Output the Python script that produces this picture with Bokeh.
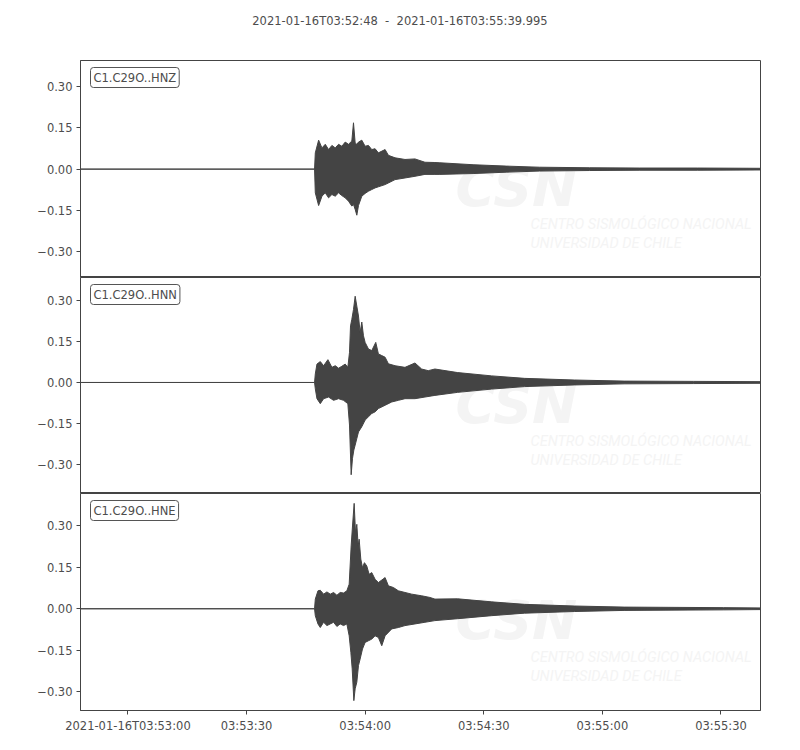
from bokeh.plotting import figure
from bokeh.models import Range1d, FixedTicker, CustomJSTickFormatter, Label, Div
from bokeh.layouts import column
from bokeh.embed import file_html
from bokeh.resources import INLINE

title_text = "2021-01-16T03:52:48  -  2021-01-16T03:55:39.995"
duration = 171.995  # seconds after 03:52:48

x_ticks = [12, 42, 72, 102, 132, 162]
x_tick_labels = ["2021-01-16T03:53:00", "03:53:30", "03:54:00",
                 "03:54:30", "03:55:00", "03:55:30"]
y_ticks = [-0.30, -0.15, 0.0, 0.15, 0.30]

channels = ["C1.C29O..HNZ", "C1.C29O..HNN", "C1.C29O..HNE"]

# trace envelopes (time in s after start, amplitude)
hnz_t = [0, 59.2, 59.39, 60.23, 61.07, 61.91, 62.75, 63.59, 64.43, 65.27, 66.11,
         66.95, 67.79, 68.63, 69.05, 69.47, 69.89, 70.31, 71.15, 71.99, 72.83,
         73.67, 74.51, 75.35, 77.04, 77.88, 79.56, 82.08, 84.60, 87.12, 89.64,
         90.9, 99.3, 107.7, 116.1, 128.7, 141.3, 156.0, 171.995]
hnz_top = [0, 0, 0.059, 0.105, 0.077, 0.09, 0.071, 0.086, 0.077, 0.09, 0.083,
           0.098, 0.09, 0.102, 0.168, 0.095, 0.09, 0.098, 0.105, 0.083, 0.086,
           0.071, 0.074, 0.059, 0.071, 0.05, 0.041, 0.035, 0.037, 0.025, 0.024,
           0.023, 0.016, 0.011, 0.007, 0.005, 0.004, 0.004, 0.003]
hnz_bot = [0, 0, -0.086, -0.132, -0.098, -0.086, -0.104, -0.092, -0.098, -0.086, -0.096,
           -0.104, -0.116, -0.134, -0.128, -0.146, -0.167, -0.132, -0.098, -0.088, -0.08,
           -0.074, -0.068, -0.064, -0.056, -0.05, -0.038, -0.032, -0.026, -0.019, -0.019,
           -0.019, -0.016, -0.011, -0.007, -0.005, -0.004, -0.004, -0.003]

hnn_top_t = [0, 59.2, 59.39, 59.81, 60.65, 61.49, 62.58, 63.59, 64.43, 65.27, 66.11,
             66.95, 67.62, 68.04, 68.30, 68.63, 69.05, 69.47, 69.89, 70.31, 70.73,
             71.15, 71.57, 71.99, 72.83, 73.67, 74.68, 75.35, 76.20, 77.04, 77.88,
             79.56, 82.08, 84.60, 86.28, 87.96, 89.64,
             95.4, 104.0, 112.3, 124.9, 137.5, 155.0, 171.995]
hnn_top = [0, 0, 0.031, 0.067, 0.076, 0.061, 0.083, 0.055, 0.061, 0.052, 0.059,
           0.067, 0.055, 0.11, 0.206, 0.23, 0.266, 0.314, 0.278, 0.242, 0.182,
           0.22, 0.17, 0.146, 0.122, 0.116, 0.146, 0.104, 0.098, 0.092, 0.068,
           0.061, 0.055, 0.071, 0.049, 0.043, 0.049,
           0.036, 0.024, 0.015, 0.009, 0.005, 0.004, 0.003]
hnn_bot_t = [0, 59.2, 59.39, 59.81, 60.65, 61.49, 62.75, 64.01, 65.27, 66.53, 67.62,
             68.04, 68.46, 68.80, 69.14, 69.47, 69.89, 70.31, 71.15, 71.99, 72.83,
             73.67, 74.51, 75.35, 77.04, 78.72, 80.40, 82.08, 84.60, 87.12, 89.64,
             95.4, 104.0, 112.3, 124.9, 137.5, 155.0, 171.995]
hnn_bot = [0, 0, -0.023, -0.059, -0.077, -0.059, -0.053, -0.065, -0.059, -0.065, -0.077,
           -0.155, -0.336, -0.276, -0.246, -0.228, -0.204, -0.18, -0.161, -0.137, -0.125,
           -0.113, -0.107, -0.095, -0.083, -0.071, -0.065, -0.059, -0.059, -0.053, -0.047,
           -0.036, -0.024, -0.015, -0.009, -0.005, -0.004, -0.003]

hne_top_t = [0, 59.2, 59.39, 60.06, 60.65, 61.49, 62.33, 63.17, 64.01, 64.85, 65.69,
             66.53, 67.37, 67.96, 68.46, 68.80, 69.22, 69.56, 69.89, 70.23, 70.48,
             70.90, 71.32, 71.82, 72.41, 73.00, 73.67, 74.51, 75.35, 77.04, 77.88,
             79.14, 80.40, 82.08, 83.76, 86.28, 88.38, 89.64,
             95.4, 104.0, 112.3, 124.9, 137.5, 162.7, 171.995]
hne_top = [0, 0, 0.035, 0.065, 0.067, 0.053, 0.061, 0.053, 0.059, 0.049, 0.059,
           0.057, 0.065, 0.089, 0.228, 0.30, 0.382, 0.276, 0.306, 0.228, 0.252,
           0.18, 0.149, 0.167, 0.155, 0.125, 0.131, 0.107, 0.095, 0.113, 0.083,
           0.077, 0.065, 0.059, 0.053, 0.047, 0.041, 0.035,
           0.036, 0.025, 0.016, 0.01, 0.006, 0.004, 0.003]
hne_bot_t = [0, 59.2, 59.39, 60.06, 60.65, 61.49, 62.33, 63.17, 64.01, 64.85, 65.69,
             66.53, 67.37, 67.96, 68.38, 68.72, 69.14, 69.47, 69.89, 70.31, 70.73,
             71.32, 71.99, 72.83, 73.67, 74.51, 75.35, 76.20, 77.04, 78.72, 80.40,
             82.08, 84.60, 87.12, 89.64,
             95.4, 104.0, 112.3, 124.9, 137.5, 162.7, 171.995]
hne_bot = [0, 0, -0.025, -0.055, -0.068, -0.049, -0.061, -0.055, -0.049, -0.064, -0.055,
           -0.061, -0.055, -0.098, -0.158, -0.218, -0.333, -0.29, -0.266, -0.206, -0.182,
           -0.146, -0.122, -0.116, -0.11, -0.098, -0.104, -0.134, -0.098, -0.073, -0.068,
           -0.061, -0.055, -0.049, -0.043,
           -0.036, -0.025, -0.016, -0.01, -0.006, -0.004, -0.003]

traces = [
    (hnz_t, hnz_top, hnz_t, hnz_bot),
    (hnn_top_t, hnn_top, hnn_bot_t, hnn_bot),
    (hne_top_t, hne_top, hne_bot_t, hne_bot),
]

TRACE = "#444444"
AX = "#444444"
TXT = "#4d4d4d"
FONT = "DejaVu Sans"
WM = "#f4f4f4"

# all panels share the same amplitude span (like obspy's equal_scale)
span = 1.1 * max(max(tp) - min(bt) for _, tp, _, bt in traces)
x_range = Range1d(0, duration)
FRAME_W = 680
sec_px = duration / FRAME_W  # seconds per pixel

ytick_fmt = CustomJSTickFormatter(
    code="return (tick < -1e-9 ? '\u2212' : '') + Math.abs(tick).toFixed(2);")


def make_panel(i, frame_h, top_border, bottom_border):
    top_t, top, bot_t, bot = traces[i]
    mid = (max(top) + min(bot)) / 2
    y0, y1 = mid - span / 2, mid + span / 2
    last = i == len(traces) - 1
    p = figure(width=800, height=frame_h + top_border + bottom_border,
               x_range=x_range, y_range=Range1d(y0, y1),
               x_axis_location="below" if last else None,
               toolbar_location=None, tools="", output_backend="svg",
               min_border=0, min_border_left=80, min_border_right=40,
               min_border_top=top_border, min_border_bottom=bottom_border)
    p.grid.visible = False
    p.outline_line_color = AX
    p.outline_line_width = 1

    px = span / frame_h  # data units per pixel

    # faint CSN watermark
    p.add_layout(Label(x=375 * sec_px, y=y1 - 158 * px, text="CSN", text_font=FONT,
                       text_font_style="bold italic", text_font_size="54px",
                       text_color=WM, level="underlay"))
    p.add_layout(Label(x=450 * sec_px, y=y1 - 172 * px, text="CENTRO SISMOLÓGICO NACIONAL",
                       text_font="Roboto", text_font_style="italic",
                       text_font_size="14.5px", text_color=WM, level="underlay"))
    p.add_layout(Label(x=450 * sec_px, y=y1 - 191 * px, text="UNIVERSIDAD DE CHILE",
                       text_font="Roboto", text_font_style="italic",
                       text_font_size="14.5px", text_color=WM, level="underlay"))

    xs = list(top_t) + list(reversed(bot_t))
    ys = list(top) + list(reversed(bot))
    p.patch(xs, ys, fill_color=TRACE, line_color=TRACE, line_width=1)

    p.add_layout(Label(x=10 * sec_px, y=y1 - 7 * px, text=channels[i], anchor="top_left",
                       text_font=FONT, text_font_size="11.5px", text_color=TXT,
                       background_fill_color="white", border_line_color="#555555",
                       border_line_width=1, border_radius=3, padding=3))

    p.yaxis.ticker = FixedTicker(ticks=y_ticks)
    p.yaxis.formatter = ytick_fmt
    axes = [p.yaxis]
    if last:
        p.xaxis.ticker = FixedTicker(ticks=x_ticks)
        p.xaxis.major_label_overrides = dict(zip(x_ticks, x_tick_labels))
        axes.append(p.xaxis)
    for ax in axes:
        ax.axis_line_color = AX
        ax.major_tick_line_color = AX
        ax.major_tick_in = 0
        ax.major_tick_out = 4
        ax.minor_tick_line_color = None
        ax.major_label_text_font = FONT
        ax.major_label_text_font_size = "11.5px"
        ax.major_label_text_color = TXT
        ax.major_label_standoff = 4
    return p


header = Div(text=title_text, width=800, height=60, margin=0,
             styles={"font-family": FONT, "font-size": "11.5px", "color": TXT,
                     "text-align": "center", "white-space": "pre",
                     "line-height": "42px"})

p1 = make_panel(0, 217, 0, 0)
p2 = make_panel(1, 216, 0, 0)
p3 = make_panel(2, 217, 0, 30)

layout = column(header, p1, p2, p3)
open("out.html", "w", encoding="utf-8").write(file_html(layout, INLINE, title="C1.C29O"))
